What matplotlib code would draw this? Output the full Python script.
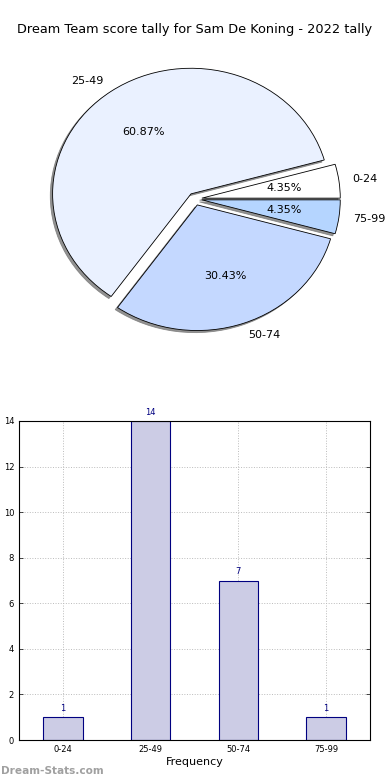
import matplotlib
matplotlib.use("Agg")
import matplotlib.pyplot as plt

categories = ["0-24", "25-49", "50-74", "75-99"]
counts = [1, 14, 7, 1]
pie_colors = ["#FFFFFF", "#EAF1FF", "#C4D8FF", "#B5D5FF"]
title = "Dream Team score tally for Sam De Koning - 2022 tally"

fig = plt.figure(figsize=(3.9, 7.8), dpi=100)

# Pie
pw, ph = 346, 314
cx, cy = 195, 199
axp = fig.add_axes([(cx - pw/2)/390, 1 - (cy + ph/2)/780, pw/390, ph/780])
wedges, texts, autotexts = axp.pie(
    counts, labels=categories, colors=pie_colors, autopct="%.2f%%",
    explode=[0.05]*4, shadow=dict(ox=-0.012, oy=-0.012, color="#777777", alpha=0.8),
    startangle=0,
    wedgeprops=dict(edgecolor="black", linewidth=0.6),
    textprops=dict(fontsize=8))
axp.set_aspect("auto")
axp.set_xlim(-1.25, 1.25)
axp.set_ylim(-1.25, 1.25)
fig.text(0.5, 1 - 30/780, title, ha="center", va="center", fontsize=9.3)

# Bar
axb = fig.add_axes([19/390, 40/780, 351/390, 319/780])
x = list(range(len(categories)))
bars = axb.bar(x, counts, width=0.45, color="#CCCCE5", edgecolor="#000080", linewidth=0.8, zorder=2)
for xi, c in zip(x, counts):
    axb.text(xi, c + 0.18, str(c), ha="center", va="bottom", fontsize=6, color="#000080")
axb.set_xlim(-0.5, 3.5)
axb.set_ylim(0, 14)
axb.set_xticks(x)
axb.set_xticklabels(categories)
axb.set_yticks(range(0, 15, 2))
axb.tick_params(labelsize=6, length=3, width=0.5, direction="in", right=True, top=False)
axb.grid(True, linestyle=":", color="#BBBBBB", linewidth=0.7, zorder=0)
axb.set_axisbelow(True)
axb.set_xlabel("Frequency", fontsize=8, labelpad=2)
axb.set_ylabel("Score Tally", fontsize=7, labelpad=6)
for s in axb.spines.values():
    s.set_linewidth(0.8)

fig.text(0.5/390, 1 - 771/780, "Dream-Stats.com", fontsize=7.6, color="#A0A0A0",
         fontweight="bold", ha="left", va="center")

fig.savefig("out.png", dpi=100)
